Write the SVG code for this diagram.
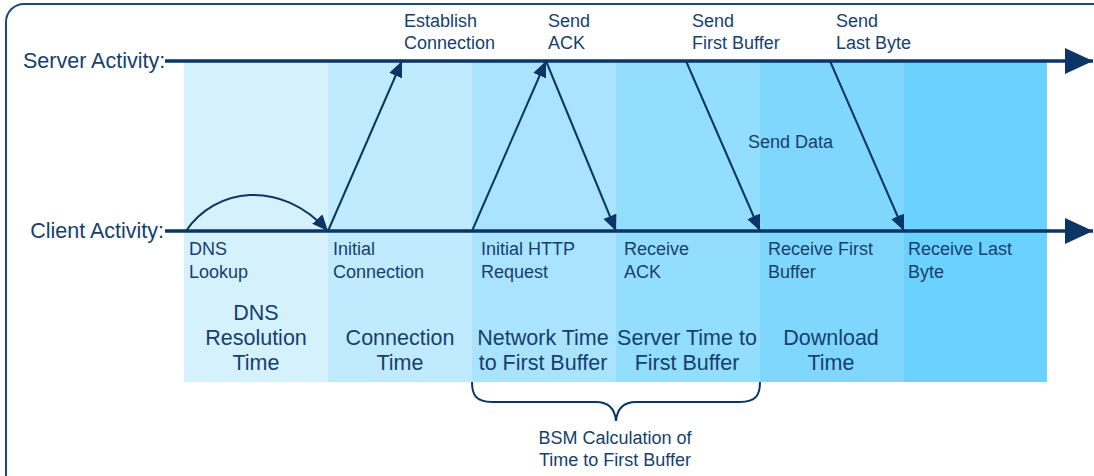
<svg xmlns="http://www.w3.org/2000/svg" width="1094" height="476" viewBox="0 0 1094 476">
<defs>
<marker id="ah" viewBox="0 0 16 14" refX="16" refY="7" markerWidth="16" markerHeight="14" markerUnits="userSpaceOnUse" orient="auto">
<path d="M0,0 L16,7 L0,14 Z" fill="#0b3565"/>
</marker>
<marker id="big" viewBox="0 0 28 26" refX="28" refY="13" markerWidth="28" markerHeight="26" markerUnits="userSpaceOnUse" orient="auto">
<path d="M0,0 L28,13 L0,26 Z" fill="#0b3565"/>
</marker>
<style>
text{font-family:"Liberation Sans",Arial,sans-serif;fill:#163f6e}
.s{font-size:18px}
.l{font-size:21.5px}
.c{text-anchor:middle}
.ln{stroke:#0b3565;stroke-width:2;fill:none}
.ax{stroke:#0b3565;stroke-width:3.5;fill:none}
</style>
</defs>
<rect x="6" y="4" width="1110" height="500" rx="18" fill="#fff" stroke="#1a4a7a" stroke-width="2"/>
<g id="bands">
<rect x="184" y="61" width="144" height="321" fill="#d5f1fc"/>
<rect x="328" y="61" width="144" height="321" fill="#c0eafd"/>
<rect x="472" y="61" width="144" height="321" fill="#a9e3fd"/>
<rect x="616" y="61" width="144" height="321" fill="#93ddfd"/>
<rect x="760" y="61" width="144" height="321" fill="#80d7fe"/>
<rect x="904" y="61" width="143" height="321" fill="#6bd1fe"/>
</g>
<g id="axes">
<text class="l" x="23" y="68">Server Activity:</text>
<text class="l" x="164" y="238" text-anchor="end">Client Activity:</text>
<line class="ax" x1="165" y1="61" x2="1093" y2="61" marker-end="url(#big)"/>
<line class="ax" x1="165" y1="231" x2="1093" y2="231" marker-end="url(#big)"/>
</g>
<g id="connectors">
<path class="ln" d="M186,231 C215,188 280,178 328,231" marker-end="url(#ah)"/>
<line class="ln" x1="328" y1="231" x2="402" y2="61" marker-end="url(#ah)"/>
<line class="ln" x1="472" y1="231" x2="546" y2="61" marker-end="url(#ah)"/>
<line class="ln" x1="546" y1="61" x2="616" y2="231" marker-end="url(#ah)"/>
<line class="ln" x1="686" y1="61" x2="760" y2="231" marker-end="url(#ah)"/>
<line class="ln" x1="830" y1="61" x2="904" y2="231" marker-end="url(#ah)"/>
</g>
<g id="server-labels">
<text class="s" x="404" y="27">Establish</text>
<text class="s" x="404" y="49">Connection</text>
<text class="s" x="548" y="27">Send</text>
<text class="s" x="548" y="49">ACK</text>
<text class="s" x="692" y="27">Send</text>
<text class="s" x="692" y="49">First Buffer</text>
<text class="s" x="836" y="27">Send</text>
<text class="s" x="836" y="49">Last Byte</text>
<text class="s" x="748" y="148">Send Data</text>
</g>
<g id="client-labels">
<text class="s" x="189" y="255">DNS</text>
<text class="s" x="189" y="278">Lookup</text>
<text class="s" x="333" y="255">Initial</text>
<text class="s" x="333" y="278">Connection</text>
<text class="s" x="481" y="255">Initial HTTP</text>
<text class="s" x="481" y="278">Request</text>
<text class="s" x="624" y="255">Receive</text>
<text class="s" x="624" y="278">ACK</text>
<text class="s" x="768" y="255">Receive First</text>
<text class="s" x="768" y="278">Buffer</text>
<text class="s" x="908" y="255">Receive Last</text>
<text class="s" x="908" y="278">Byte</text>
</g>
<g id="phase-labels">
<text class="l c" x="256" y="320">DNS</text>
<text class="l c" x="256" y="345">Resolution</text>
<text class="l c" x="256" y="370">Time</text>
<text class="l c" x="400" y="345">Connection</text>
<text class="l c" x="400" y="370">Time</text>
<text class="l c" x="543" y="345">Network Time</text>
<text class="l c" x="543" y="370">to First Buffer</text>
<text class="l c" x="687" y="345">Server Time to</text>
<text class="l c" x="687" y="370">First Buffer</text>
<text class="l c" x="831" y="345">Download</text>
<text class="l c" x="831" y="370">Time</text>
</g>
<g id="brace">
<path class="ln" d="M472,382 C472,395 476,402 492,402 L596,402 C610,402 615,410 616,421 C617,410 622,402 636,402 L740,402 C756,402 760,395 760,382"/>
<text class="s c" x="615" y="444">BSM Calculation of</text>
<text class="s c" x="615" y="466">Time to First Buffer</text>
</g>
</svg>
